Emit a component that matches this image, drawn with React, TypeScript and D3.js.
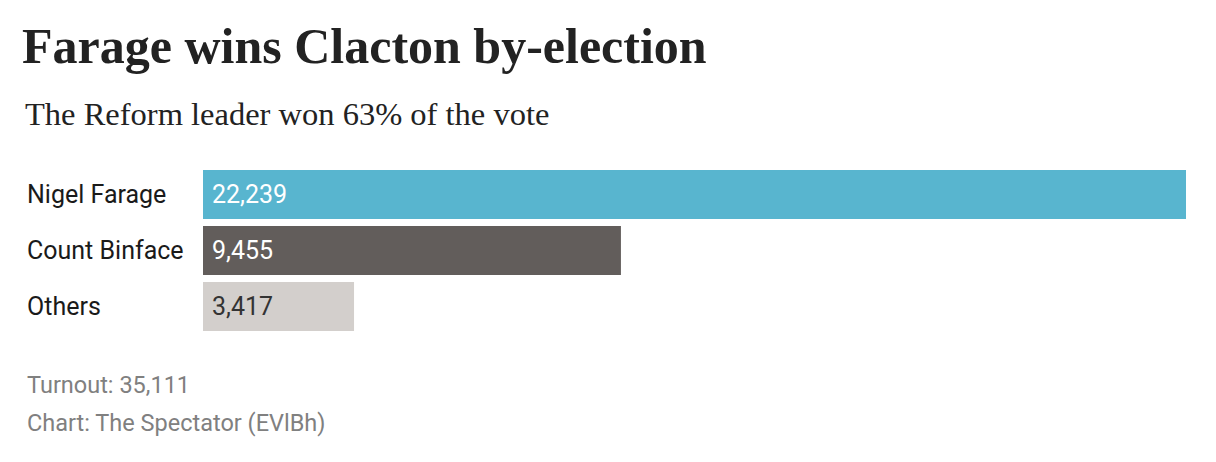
import { useEffect, useRef } from 'react';
import * as d3 from 'd3';

const candidates = ['Nigel Farage', 'Count Binface', 'Others'];
const votes = [22239, 9455, 3417];
const barColors = ['#58b5cf', '#625d5b', '#d3cfcc'];
const valueColors = ['#ffffff', '#ffffff', '#333333'];
const title = 'Farage wins Clacton by-election';
const subtitle = 'The Reform leader won 63% of the vote';
const notes = ['Turnout: 35,111', 'Chart: The Spectator (EVlBh)'];

export default function App() {
  const svgRef = useRef<SVGSVGElement>(null);
  const width = 1216;
  const height = 462;

  useEffect(() => {
    if (!svgRef.current) return;
    const svg = d3.select(svgRef.current);
    svg.selectAll('*').remove();

    svg.append('rect').attr('width', width).attr('height', height).attr('fill', '#ffffff');

    svg.append('text').attr('x', 22).attr('y', 63)
      .attr('font-family', '"Liberation Serif", "DejaVu Serif", serif').attr('font-weight', 700)
      .attr('font-size', '50px').attr('fill', '#222222').text(title);

    svg.append('text').attr('x', 25).attr('y', 125)
      .attr('font-family', '"Liberation Serif", "DejaVu Serif", serif')
      .attr('font-size', '32.5px').attr('fill', '#222222').text(subtitle);

    const x = d3.scaleLinear().domain([0, d3.max(votes) || 0]).range([203, 1186]);
    const y = d3.scaleBand().domain(candidates).range([170, 331]).paddingInner(7 / 56).paddingOuter(0);
    const fmt = d3.format(',');

    const rows = svg.append('g').selectAll('g').data(candidates).join('g');

    rows.append('rect')
      .attr('x', x(0))
      .attr('y', d => y(d)!)
      .attr('width', (_, i) => x(votes[i]) - x(0))
      .attr('height', y.bandwidth())
      .attr('fill', (_, i) => barColors[i]);

    rows.append('text')
      .attr('x', 27)
      .attr('y', d => y(d)! + y.bandwidth() / 2 + 8.7)
      .attr('font-family', 'Roboto, sans-serif').attr('font-size', '25px').attr('fill', '#1a1a1a')
      .text(d => d);

    rows.append('text')
      .attr('x', x(0) + 9)
      .attr('y', d => y(d)! + y.bandwidth() / 2 + 8.7)
      .attr('font-family', 'Roboto, sans-serif').attr('font-size', '25px')
      .attr('fill', (_, i) => valueColors[i])
      .text((_, i) => fmt(votes[i]));

    svg.append('g').selectAll('text').data(notes).join('text')
      .attr('x', 27)
      .attr('y', (_, i) => 393 + i * 38)
      .attr('font-family', 'Roboto, sans-serif').attr('font-size', '23.5px').attr('fill', '#808080')
      .text(d => d);
  }, []);

  return (
    <svg ref={svgRef} width={width} height={height}
      style={{ position: 'absolute', left: 0, top: 0, display: 'block' }} />
  );
}
